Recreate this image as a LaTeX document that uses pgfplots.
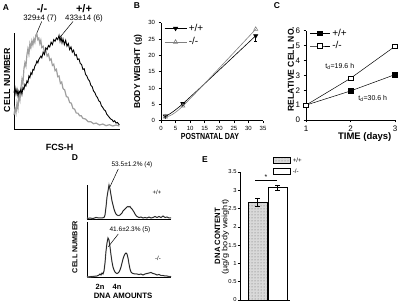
\documentclass[border=0pt]{standalone}
\usepackage{fontspec}
\setmainfont{Liberation Sans}
\newfontfamily\nar[FakeStretch=0.8]{Liberation Sans}
\newfontfamily\wid[FakeStretch=1.2]{Liberation Sans}
\usepackage{pgfplots}
\pgfplotsset{compat=1.18}
\usetikzlibrary{patterns}
\newcommand\fs[1]{\fontsize{#1}{#1}\selectfont}
\pgfplotsset{
 panel/.style={scale only axis, anchor=south west, axis x line*=bottom, axis y line*=left,
   axis line style={-, line width=0.6pt}, tick style={black, line width=0.5pt}, tick align=outside,
   major tick length=2.5pt, /pgf/number format/assume math mode=true, clip=false,
   xlabel style={anchor=center}, ylabel style={anchor=center}},
 bare/.style={scale only axis, anchor=south west, axis x line*=bottom, axis y line*=left,
   axis line style={-, line width=0.6pt}, xtick=\empty, ytick=\empty, clip=false,
   xlabel style={anchor=center}, ylabel style={anchor=center}}
}
\begin{document}
\begin{tikzpicture}[x=1pt,y=1pt]
\useasboundingbox (0,0) rectangle (402,305);
% ---------------- Panel A
\begin{axis}[bare, at={(14pt,176pt)}, width=106pt, height=96pt, xmin=12, xmax=332, ymin=0, ymax=290,
  ylabel={CELL NUMBER}, ylabel style={at={(axis description cs:-0.066,0.51)}, font=\bfseries\fs{8.8}},
  xlabel={FCS-H}, xlabel style={at={(axis description cs:0.43,-0.19)}, font=\bfseries\fs{9}}]
\addplot[gray!75, line width=1.2pt] coordinates {
(12,42)(15,62)(18,48)(21,78)(24,62)(27,104)(30,88)(33,124)(36,150)(39,136)(42,182)(45,200)(48,190)(51,224)(54,242)(57,226)(60,258)(63,246)(66,266)(69,254)(72,272)(75,262)(78,284)(81,287)(84,270)(87,274)(90,258)(93,268)(96,246)(100,250)(104,232)(108,238)(112,220)(116,226)(120,208)(124,212)(128,192)(132,196)(136,176)(140,180)(144,158)(148,160)(152,138)(156,142)(160,122)(165,118)(170,98)(175,96)(180,80)(185,78)(190,62)(195,60)(200,48)(205,48)(210,40)(215,40)(220,32)(228,30)(236,22)(244,22)(252,16)(260,18)(270,12)(280,15)(290,10)(300,13)(310,9)(320,12)(330,9)};
\addplot[black, line width=0.9pt] coordinates {
(12,110)(15,125)(18,105)(21,120)(24,100)(27,115)(30,108)(33,120)(36,105)(39,125)(42,120)(45,135)(48,130)(51,145)(54,140)(57,160)(60,155)(63,170)(66,165)(69,180)(72,178)(75,190)(78,195)(81,205)(84,200)(87,210)(90,215)(93,220)(96,215)(100,232)(104,225)(108,245)(112,240)(116,252)(120,248)(124,262)(128,255)(132,270)(136,265)(140,275)(144,270)(148,283)(151,265)(154,278)(157,260)(160,272)(164,255)(168,268)(172,250)(176,258)(180,240)(184,248)(188,232)(192,238)(196,222)(200,225)(204,210)(208,212)(212,198)(216,195)(220,180)(224,182)(228,165)(232,160)(236,150)(240,145)(244,132)(248,128)(252,115)(256,110)(260,100)(264,95)(268,85)(272,82)(276,70)(280,65)(284,58)(288,55)(292,45)(296,40)(300,35)(304,30)(308,28)(312,22)(316,25)(320,18)(324,20)(328,15)(330,12)};
\end{axis}
\node[font=\bfseries\fs{8.5}] at (6,297) {A};
\node[font=\bfseries\fs{11}, inner sep=0pt] at (42,296) {-/-};
\node[font=\fs{7.8}, inner sep=0pt] at (40,287) {329±4 (7)};
\node[font=\bfseries\fs{11}, inner sep=0pt] at (84,296) {+/+};
\node[font=\fs{7.8}, inner sep=0pt] at (84,287) {433±14 (6)};
\draw[line width=0.5pt] (41.7,283.5) -- (36.7,271.7);
\draw[line width=0.5pt] (73,283.5) -- (60,267.7);
% ---------------- Panel B
\begin{axis}[panel, at={(161pt,184.3pt)}, width=102pt, height=98pt, xmin=0, xmax=35, ymin=0, ymax=30,
  xtick={0,5,...,35}, ytick={0,5,...,30}, ticklabel style={font=\fs{6}},
  ylabel={BODY WEIGHT (g)}, ylabel style={at={(axis description cs:-0.225,0.5)}, font=\bfseries\fs{8.5}},
  xlabel={POSTNATAL DAY}, xlabel style={at={(axis description cs:0.48,-0.166)}, font=\nar\bfseries\fs{8.8}},
  legend style={at={(axis description cs:0.03,1.01)}, anchor=north west, draw=none, fill=none, font=\fs{10}, row sep=1pt, inner sep=0pt},
  legend cell align=left,
  legend image code/.code={\draw[mark repeat=2,mark phase=2] plot coordinates {(0pt,0pt)(11pt,0pt)(22pt,0pt)};}]
\addplot[black, line width=0.6pt, smooth, mark=triangle*, mark size=2.4pt, mark options={rotate=180, fill=black},
  error bars/.cd, y dir=minus, y explicit, error bar style={line width=0.5pt}, error mark options={rotate=90, mark size=1.5pt}]
  coordinates {(1.5,1.4) +- (0,0) (7.5,5.2) +- (0,0) (32.5,26) +- (0,1.7)};
\addlegendentry{+/+}
\addplot[gray, line width=0.6pt, smooth, mark=triangle, mark size=2.4pt, mark options={fill=white, draw=gray}]
  coordinates {(1.5,1.2)(7.5,4.5)(32.5,28)};
\addlegendentry{-/-}
\end{axis}
\node[font=\bfseries\fs{8.5}] at (137,299) {B};
% ---------------- Panel C
\begin{axis}[panel, at={(306pt,185pt)}, width=89pt, height=89.3pt, xmin=1, xmax=3, ymin=0, ymax=6,
  xtick={1,2,3}, ytick={0,1,...,6}, ticklabel style={font=\fs{8}},
  ylabel={RELATIVE CELL NO.}, ylabel style={at={(axis description cs:-0.17,0.57)}, font=\bfseries\fs{8.6}},
  xlabel={TIME (days)}, xlabel style={at={(axis description cs:0.66,-0.19)}, font=\bfseries\fs{9.5}},
  legend style={at={(axis description cs:0.04,1.045)}, anchor=north west, draw=none, fill=none, font=\fs{10}, row sep=0pt, inner sep=0pt},
  legend cell align=left,
  legend image code/.code={\draw[mark repeat=2,mark phase=2] plot coordinates {(0pt,0pt)(10pt,0pt)(20pt,0pt)};}]
\addplot[black, line width=0.5pt, mark=square*, mark size=2.3pt, mark options={fill=black}]
  coordinates {(1,1)(2,1.95)(3,3.05)};
\addlegendentry{+/+}
\addplot[black, line width=0.5pt, mark=square*, mark size=2.3pt, mark options={fill=white}]
  coordinates {(1,1)(2,2.8)(3,4.95)};
\addlegendentry{-/-}
\node[font=\fs{7}] at (axis cs:1.76,3.58) {t$_{\mathrm{d}}$=19.6 h};
\node[font=\fs{7}] at (axis cs:2.5,1.46) {t$_{\mathrm{d}}$=30.6 h};
\end{axis}
\node[font=\bfseries\fs{8.5}] at (277,299) {C};
% ---------------- Panel D top
\begin{axis}[bare, at={(87pt,86pt)}, width=84pt, height=34pt, xmin=0, xmax=84, ymin=0, ymax=34]
\addplot[gray!70, line width=1.3pt] coordinates {
(0,0.5)(3,1)(6,0.5)(9,1.5)(12,1)(15,1)(17,1.5)(18,4)(19,12)(20,22)(21,28)(22,34)(23,30)(24,24)(25,18)(26,14)(27,10)(28,7)(29,5)(30,4)(31,3.5)(32,3.5)(33,4)(34,5)(35,6)(36,8)(37,9)(38,10)(39,11)(40,12)(41,12.5)(42,12)(43,12.5)(44,11)(45,10)(46,8.5)(47,7)(48,5)(49,3.5)(50,2.5)(51,2)(52,1.5)(54,2)(56,1)(58,1.5)(60,1)(62,2)(64,1)(66,1.5)(68,2.5)(70,1.5)(72,2.5)(74,1.5)(76,3)(78,1.5)(80,2)(82,1)(84,1)};
\addplot[black, line width=0.5pt] coordinates {
(0,0.5)(3,1)(6,0.5)(9,1.5)(12,1)(15,1)(17,1.5)(18,4)(19,12)(20,22)(21,28)(22,34)(23,30)(24,24)(25,18)(26,14)(27,10)(28,7)(29,5)(30,4)(31,3.5)(32,3.5)(33,4)(34,5)(35,6)(36,8)(37,9)(38,10)(39,11)(40,12)(41,12.5)(42,12)(43,12.5)(44,11)(45,10)(46,8.5)(47,7)(48,5)(49,3.5)(50,2.5)(51,2)(52,1.5)(54,2)(56,1)(58,1.5)(60,1)(62,2)(64,1)(66,1.5)(68,2.5)(70,1.5)(72,2.5)(74,1.5)(76,3)(78,1.5)(80,2)(82,1)(84,1)};
\end{axis}
% ---------------- Panel D bottom
\begin{axis}[bare, at={(87pt,28pt)}, width=84pt, height=55pt, xmin=0, xmax=84, ymin=0, ymax=55]
\addplot[gray!70, line width=1.3pt] coordinates {
(0,0)(5,0.5)(10,1)(12,2)(13,3)(14,2)(15,4)(16,3)(17,6)(18,14)(19,26)(20,34)(21,39)(22,37)(23,30)(24,22)(25,15)(26,10)(27,7)(28,5)(29,4)(30,3.5)(31,4)(32,5)(33,7)(34,10)(35,14)(36,18)(37,21)(38,23)(39,24)(40,23)(41,19)(42,13)(43,8)(44,5)(45,4)(46,3.5)(48,3)(50,3)(52,2.5)(54,3)(56,2)(58,3)(60,3.5)(62,4)(64,4.5)(66,3.5)(68,3)(70,2)(72,2.5)(74,1.5)(76,1.5)(78,1)(80,1)(82,0.5)(84,0.5)};
\addplot[black, line width=0.5pt] coordinates {
(0,0)(5,0.5)(10,1)(12,2)(13,3)(14,2)(15,4)(16,3)(17,6)(18,14)(19,26)(20,34)(21,39)(22,37)(23,30)(24,22)(25,15)(26,10)(27,7)(28,5)(29,4)(30,3.5)(31,4)(32,5)(33,7)(34,10)(35,14)(36,18)(37,21)(38,23)(39,24)(40,23)(41,19)(42,13)(43,8)(44,5)(45,4)(46,3.5)(48,3)(50,3)(52,2.5)(54,3)(56,2)(58,3)(60,3.5)(62,4)(64,4.5)(66,3.5)(68,3)(70,2)(72,2.5)(74,1.5)(76,1.5)(78,1)(80,1)(82,0.5)(84,0.5)};
\end{axis}
\node[font=\bfseries\fs{8.5}] at (75,147) {D};
\node[font=\fs{6.5}] at (132,140) {53.5±1.2\% (4)};
\node[font=\fs{6}] at (157,113) {+/+};
\node[font=\fs{6.5}] at (130,75) {41.6±2.3\% (5)};
\node[font=\fs{6}] at (158,47) {-/-};
\draw[line width=0.5pt] (118.3,136) -- (110,118.3);
\draw[line width=0.5pt] (118.3,71) -- (108.3,58.3);
\node[rotate=90, font=\bfseries\fs{7.2}] at (75,58) {CELL NUMBER};
\node[font=\bfseries\fs{7.5}] at (100,18) {2n};
\node[font=\bfseries\fs{7.5}] at (117,18) {4n};
\node[font=\bfseries\fs{7.8}] at (123,9) {DNA AMOUNTS};
% ---------------- Panel E
\begin{axis}[panel, at={(240pt,5pt)}, width=50pt, height=128pt, xmin=0, xmax=50, ymin=0, ymax=3.5,
  xtick=\empty, ytick={0,0.5,...,3.5}, ticklabel style={font=\fs{5.8}},
  yticklabel style={inner sep=0.8pt},
  yticklabels={0,0.5,1,1.5,2,2.5,3,3.5},
  ybar, bar width=19, bar shift=0pt,
  legend style={at={(axis description cs:0.66,1.13)}, anchor=north west, draw=none, fill=none, font=\fs{6.2}, row sep=1pt, inner sep=0pt},
  legend cell align=left]
\addplot[area legend, draw=black, line width=0.5pt, fill=gray!30, postaction={pattern=dots, pattern color=gray!80!black},
  error bars/.cd, y dir=both, y explicit, error bar style={line width=0.5pt, black}, error mark options={rotate=90, mark size=2.2pt, black}]
  coordinates {(17.5,2.68) +- (0,0.11)};
\addlegendentry{+/+}
\addplot[area legend, draw=black, line width=0.5pt, fill=white,
  error bars/.cd, y dir=both, y explicit, error bar style={line width=0.5pt, black}, error mark options={rotate=90, mark size=2.2pt, black}]
  coordinates {(37.5,3.08) +- (0,0.07)};
\addlegendentry{-/-}
\draw[line width=0.8pt] (axis cs:15,3.26) -- (axis cs:37,3.26);
\node[font=\fs{7}] at (axis cs:26,3.36) {*};
\end{axis}
\node[font=\bfseries\fs{8.5}] at (205,145) {E};
\node[rotate=90, font=\bfseries\fs{7.7}] at (217.5,69) {DNA CONTENT};
\node[rotate=90, font=\wid\fs{7.6}] at (225.5,68) {(µg/g body weight)};
\end{tikzpicture}
\end{document}
